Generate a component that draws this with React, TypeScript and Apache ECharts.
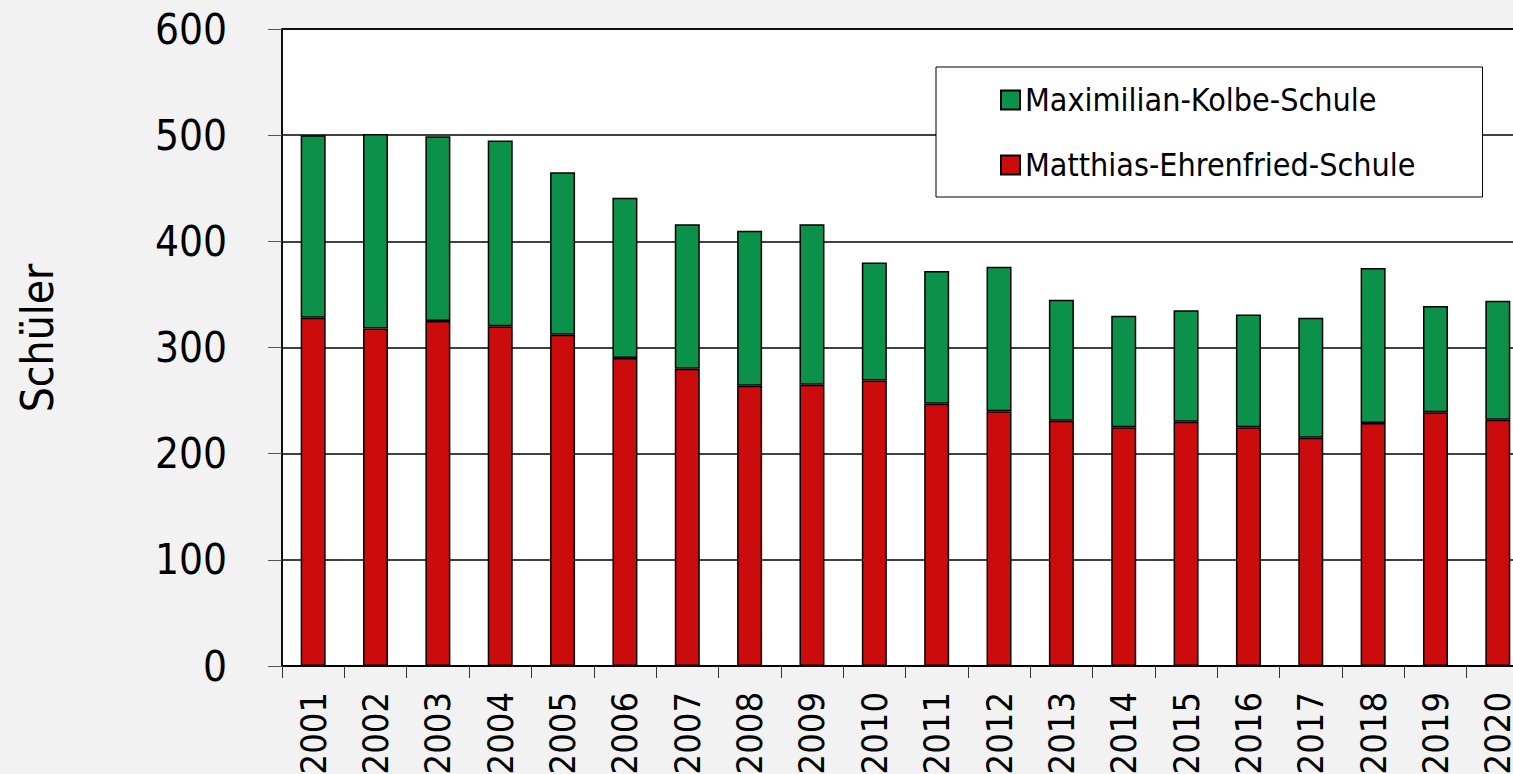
import React, { useEffect, useRef } from "react";
import * as echarts from "echarts";

const years = ["2001","2002","2003","2004","2005","2006","2007","2008","2009","2010","2011","2012","2013","2014","2015","2016","2017","2018","2019","2020"];
const matthias = [328, 318, 325, 320, 312, 290, 280, 264, 265, 269, 247, 240, 231, 225, 230, 225, 215, 229, 239, 232];
const maximilian = [172, 183, 174, 175, 153, 151, 136, 146, 151, 111, 125, 136, 114, 105, 105, 106, 113, 146, 100, 112];
const yTicks = { min: 0, max: 600, interval: 100 };
const yName = "Schüler";

const FONT = "'DejaVu Sans Condensed', 'DejaVu Sans', sans-serif";

export default function App() {
  const ref = useRef<HTMLDivElement>(null);
  useEffect(() => {
    if (!ref.current) return;
    const chart = echarts.init(ref.current, null, { renderer: "svg" });
    chart.setOption({
      animation: false,
      backgroundColor: "#f2f2f2",
      textStyle: { fontFamily: FONT },
      grid: {
        left: 282,
        top: 29,
        right: 0,
        bottom: 108,
        containLabel: false,
        outerBoundsMode: "none",
        show: true,
        backgroundColor: "#ffffff",
        borderColor: "#000000",
        borderWidth: 1.5,
      },
      legend: {
        orient: "vertical",
        left: 936,
        top: 67,
        padding: [13, 67, 12, 64],
        itemGap: 25,
        itemWidth: 19,
        itemHeight: 19,
        icon: "rect",
        backgroundColor: "#ffffff",
        borderColor: "#000000",
        borderWidth: 1,
        data: ["Maximilian-Kolbe-Schule", "Matthias-Ehrenfried-Schule"],
        textStyle: { fontFamily: FONT, fontSize: 32, lineHeight: 40, color: "#000" },
      },
      graphic: [
        {
          type: "text",
          x: 37,
          y: 338,
          rotation: Math.PI / 2,
          style: {
            text: yName,
            fontFamily: FONT,
            fontSize: 44,
            fill: "#000",
            textAlign: "center",
            textVerticalAlign: "middle",
          },
        },
      ],
      xAxis: {
        type: "category",
        data: years,
        boundaryGap: true,
        axisLine: { show: true, lineStyle: { color: "#000", width: 1.5 } },
        axisTick: { show: true, length: 12, lineStyle: { color: "#333", width: 1 } },
        axisLabel: {
          rotate: 90,
          margin: 26,
          fontSize: 36,
          color: "#000",
          fontFamily: FONT,
          interval: 0,
        },
      },
      yAxis: {
        type: "value",
        min: yTicks.min,
        max: yTicks.max,
        interval: yTicks.interval,
        axisLine: { show: true, lineStyle: { color: "#000", width: 1.5 } },
        axisTick: { show: true, length: 14, lineStyle: { color: "#555", width: 1 } },
        axisLabel: { margin: 55, fontSize: 42, color: "#000", fontFamily: FONT },
        splitLine: { show: true, lineStyle: { color: "#000", width: 1.5 } },
      },
      series: [
        {
          name: "Matthias-Ehrenfried-Schule",
          type: "bar",
          stack: "total",
          data: matthias,
          barWidth: 25,
          itemStyle: { color: "#cc0c0c", borderColor: "#000", borderWidth: 1.5 },
        },
        {
          name: "Maximilian-Kolbe-Schule",
          type: "bar",
          stack: "total",
          data: maximilian,
          barWidth: 25,
          itemStyle: { color: "#0b914a", borderColor: "#000", borderWidth: 1.5 },
        },
      ],
    });
    return () => chart.dispose();
  }, []);
  return (
    <div style={{ position: "fixed", left: 0, top: 0, width: 1513, height: 774, overflow: "hidden", background: "#f2f2f2" }}>
      <div ref={ref} style={{ width: 1529, height: 774 }} />
    </div>
  );
}
